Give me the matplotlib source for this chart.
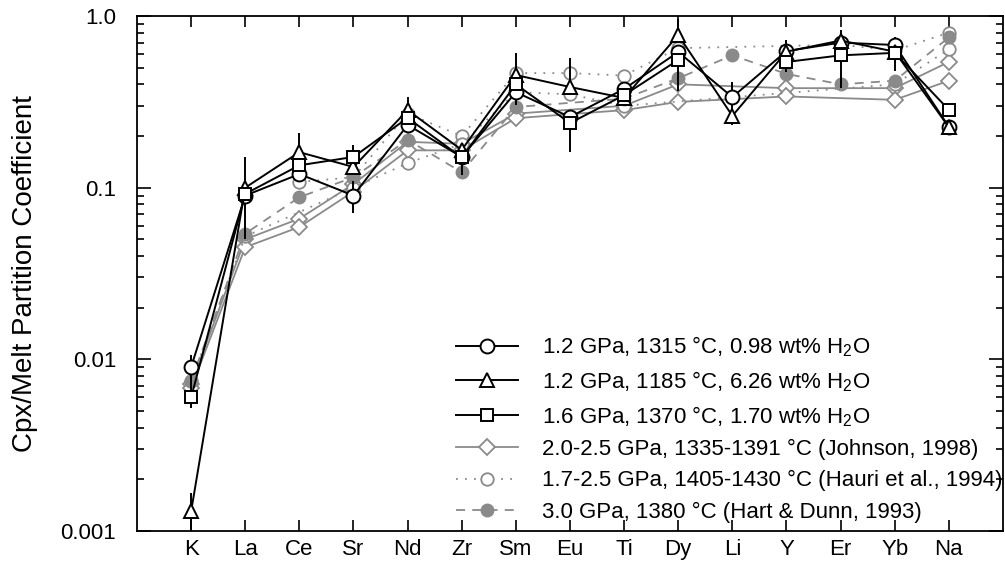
import numpy as np
import matplotlib
matplotlib.use("Agg")
import matplotlib.pyplot as plt
from matplotlib.ticker import FixedLocator, FixedFormatter, LogLocator, NullFormatter

plt.rcParams['font.family'] = ['Liberation Sans', 'DejaVu Sans']
plt.rcParams['mathtext.default'] = 'regular'

nan = np.nan
elements = ['K', 'La', 'Ce', 'Sr', 'Nd', 'Zr', 'Sm', 'Eu', 'Ti', 'Dy', 'Li', 'Y', 'Er', 'Yb', 'Na']

# this study
d_1315 = [0.009, 0.09, 0.12, 0.09, 0.232, 0.151, 0.36, 0.258, 0.376, 0.617, 0.337, 0.625, 0.70, 0.678, 0.226]
d_1185 = [0.0013, 0.10, 0.161, 0.132, 0.283, 0.166, 0.453, 0.386, 0.333, 0.775, 0.262, 0.62, 0.72, 0.62, 0.225]
d_1370 = [0.006, 0.092, 0.135, 0.151, 0.255, 0.15, 0.40, 0.238, 0.346, 0.555, nan, 0.54, 0.59, 0.61, 0.284]

# error bars (lower, upper)
e_1315_lo = [0.0037, 0.04, 0, 0.019, 0, 0.033, 0, 0.097, 0, 0.25, 0.105, 0.15, 0.32, 0.2, 0]
e_1315_hi = [0.0016, 0.06, 0, 0.02, 0, 0, 0, 0, 0, 0, 0.075, 0.1, 0.13, 0.08, 0]
e_1185_lo = [0.0005, 0, 0.04, 0, 0, 0, 0.15, 0, 0, 0, 0, 0, 0, 0, 0]
e_1185_hi = [0.00036, 0, 0.048, 0, 0.055, 0, 0.16, 0.18, 0, 0.18, 0, 0, 0, 0, 0]
e_1370_lo = [0.0008, 0, 0, 0.02, 0, 0, 0, 0, 0, 0, 0, 0, 0, 0, 0]
e_1370_hi = [0.0, 0, 0, 0.026, 0, 0, 0, 0, 0, 0, 0, 0, 0, 0, 0]

# literature
johnson_1 = [0.0072, 0.05, 0.066, 0.105, 0.185, 0.18, 0.27, nan, 0.30, 0.40, nan, 0.38, nan, 0.38, 0.54]
johnson_2 = [0.0068, 0.045, 0.059, 0.095, 0.165, 0.165, 0.254, nan, 0.283, 0.316, nan, 0.34, nan, 0.325, 0.42]
hauri_1 = [nan, nan, 0.108, 0.115, 0.27, 0.20, 0.465, 0.465, 0.45, 0.65, nan, nan, 0.68, 0.63, 0.80]
hauri_2 = [0.0075, 0.052, nan, 0.10, 0.139, 0.18, 0.36, 0.35, 0.30, nan, nan, nan, nan, 0.40, 0.64]
hart = [0.0075, 0.054, 0.088, 0.115, 0.19, 0.123, 0.295, nan, 0.33, 0.434, 0.59, 0.46, 0.40, 0.42, 0.75]

x = np.arange(1, len(elements) + 1)
gray = '#8a8a8a'

fig = plt.figure(figsize=(10.05, 5.7), dpi=100)
ax = fig.add_axes([0.1363, 0.0684, 0.8617, 0.9035])


def gplot(vals, **kw):
    v = np.array(vals, dtype=float)
    m = ~np.isnan(v)
    return ax.plot(x[m], v[m], **kw)


# gray literature data
gplot(johnson_1, color=gray, lw=1.3, marker='D', ms=8, mfc='white', mec=gray, mew=1.3,
      label='2.0-2.5 GPa, 1335-1391 °C (Johnson, 1998)', zorder=2)
gplot(johnson_2, color=gray, lw=1.3, marker='D', ms=8, mfc='white', mec=gray, mew=1.3, zorder=2)
gplot(hauri_1, color=gray, lw=1.3, ls=(0, (1, 4)), marker='o', ms=9, mfc='white', mec=gray, mew=1.3,
      label='1.7-2.5 GPa, 1405-1430 °C (Hauri et al., 1994)', zorder=2)
gplot(hauri_2, color=gray, lw=1.3, ls=(0, (1, 4)), marker='o', ms=9, mfc='white', mec=gray, mew=1.3, zorder=2)
gplot(hart, color=gray, lw=1.3, ls=(0, (5, 4)), marker='o', ms=9, mfc=gray, mec=gray,
      label='3.0 GPa, 1380 °C (Hart & Dunn, 1993)', zorder=2)

# this study
for d, lo, hi in [(d_1315, e_1315_lo, e_1315_hi), (d_1185, e_1185_lo, e_1185_hi), (d_1370, e_1370_lo, e_1370_hi)]:
    ax.errorbar(x, d, yerr=[lo, hi], fmt='none', ecolor='black', elinewidth=1.4, capsize=0, zorder=3)

ax.plot(x, d_1315, color='black', lw=1.4, marker='o', ms=10, mfc='white', mec='black', mew=1.4,
        label='1.2 GPa, 1315 °C, 0.98 wt% H$_2$O', zorder=4)
ax.plot(x, d_1185, color='black', lw=1.4, marker='^', ms=10, mfc='white', mec='black', mew=1.4,
        label='1.2 GPa, 1185 °C, 6.26 wt% H$_2$O', zorder=4)
ax.plot(x, d_1370, color='black', lw=1.4, marker='s', ms=8, mfc='white', mec='black', mew=1.4,
        label='1.6 GPa, 1370 °C, 1.70 wt% H$_2$O', zorder=4)

ax.set_yscale('log')
ax.set_ylim(0.001, 1.0)
ax.set_xlim(0, 16)
ax.yaxis.set_major_locator(FixedLocator([0.001, 0.01, 0.1, 1.0]))
ax.yaxis.set_major_formatter(FixedFormatter(['0.001', '0.01', '0.1', '1.0']))
ax.yaxis.set_minor_locator(LogLocator(base=10, subs=np.arange(2, 10)))
ax.yaxis.set_minor_formatter(NullFormatter())
ax.set_xticks(x)
ax.set_xticklabels(elements)
ax.tick_params(axis='both', which='both', direction='in', top=True, right=True, labelsize=16, width=1.2)
ax.tick_params(axis='y', which='major', length=10, pad=15)
ax.tick_params(axis='y', which='minor', length=5)
ax.tick_params(axis='x', which='major', length=8, pad=6)
for s in ax.spines.values():
    s.set_linewidth(1.3)
ax.set_ylabel('Cpx/Melt Partition Coefficient', fontsize=20, labelpad=16)

h, l = ax.get_legend_handles_labels()
order = [l.index(t) for t in [
    '1.2 GPa, 1315 °C, 0.98 wt% H$_2$O',
    '1.2 GPa, 1185 °C, 6.26 wt% H$_2$O',
    '1.6 GPa, 1370 °C, 1.70 wt% H$_2$O',
    '2.0-2.5 GPa, 1335-1391 °C (Johnson, 1998)',
    '1.7-2.5 GPa, 1405-1430 °C (Hauri et al., 1994)',
    '3.0 GPa, 1380 °C (Hart & Dunn, 1993)']]
ax.legend([h[i] for i in order], [l[i] for i in order], loc='lower left',
          bbox_to_anchor=(0.350, -0.014), frameon=False, fontsize=16,
          handlelength=2.8, handletextpad=1.08, labelspacing=0.46, borderpad=0.2)

fig.savefig('out.png', dpi=100)
